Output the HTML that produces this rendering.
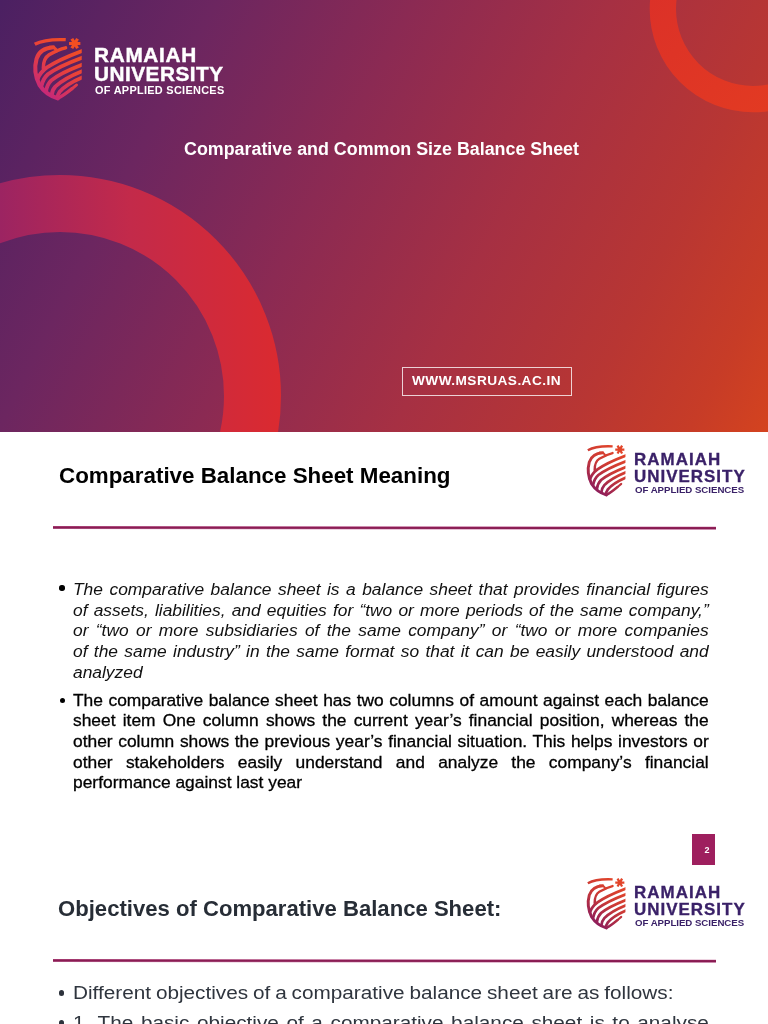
<!DOCTYPE html>
<html lang="en"><head><meta charset="utf-8"><title>Comparative and Common Size Balance Sheet</title>
<style>
html,body{margin:0;padding:0;background:#fff;}
body{width:768px;height:1024px;position:relative;overflow:hidden;font-family:"Liberation Sans",sans-serif;}
#s1{position:absolute;left:0;top:0;width:768px;height:432.4px;overflow:hidden;
background:linear-gradient(117deg,#4b2062 0%,#6c2660 22%,#8b2a53 42%,#a63043 62%,#b83633 80%,#c73c27 92%,#d4431f 100%);}
#bg{position:absolute;left:0;top:0;}
.t{position:absolute;white-space:nowrap;line-height:1;transform-origin:0 0;margin:0;padding:0;}
.j{text-align:justify;text-align-last:justify;white-space:nowrap;}
.bd{font-weight:700;}
.lg{font-weight:700;}
.it{font-style:italic;}
.rg{-webkit-text-stroke:0.3px #000;}
.rg3{}
.b{position:absolute;border-radius:50%;}
.sh{position:absolute;overflow:visible;}
.rule{position:absolute;left:52.7px;width:662.5px;height:2.8px;background:linear-gradient(180deg,#bd5a8e 0%,#8e1f57 28%,#861b50 66%,#c572a0 100%);transform-origin:0 50%;transform:rotate(0.06deg);}
#url{position:absolute;left:401.7px;top:366.7px;width:168px;height:27.2px;border:1.2px solid rgba(255,255,255,0.78);}
#pg{position:absolute;left:692px;top:834px;width:23.2px;height:30.5px;background:#9e1f5e;}
#pg span{position:absolute;left:12.5px;top:11.5px;font-size:9px;line-height:1;font-weight:700;color:#fff;}
</style></head>
<body>
<section id="s1">
<svg id="bg" width="768" height="432" viewBox="0 0 768 432">
<defs>
<linearGradient id="ring1" gradientUnits="userSpaceOnUse" x1="0" y1="300" x2="290" y2="300">
<stop offset="0" stop-color="#9c2462"/><stop offset="0.45" stop-color="#c32a4a"/><stop offset="1" stop-color="#dc2a2e"/></linearGradient>
<linearGradient id="ring2" gradientUnits="userSpaceOnUse" x1="650" y1="0" x2="768" y2="110">
<stop offset="0" stop-color="#dc3128"/><stop offset="1" stop-color="#e23a22"/></linearGradient>
</defs>
<circle cx="60" cy="396" r="192.5" fill="none" stroke="url(#ring1)" stroke-width="57"/>
<circle cx="753" cy="9" r="90.15" fill="none" stroke="url(#ring2)" stroke-width="26.3"/>
</svg>
<svg class="sh" style="left:30.40px;top:32.30px" width="57.41" height="72.48" viewBox="0 0 768 1002" preserveAspectRatio="none"><defs><linearGradient id="g1" gradientUnits="userSpaceOnUse" x1="620" y1="180" x2="130" y2="840"><stop offset="0" stop-color="#f24e22"/><stop offset="0.45" stop-color="#e8403c"/><stop offset="1" stop-color="#c5277c"/></linearGradient><clipPath id="g1c"><rect x="0" y="0" width="692" height="1002"/></clipPath></defs>
<g fill="none" stroke="url(#g1)" stroke-width="52" stroke-linecap="round" stroke-linejoin="round" clip-path="url(#g1c)">
<path d="M64 170 C150 122 300 98 478 106" stroke-linecap="butt" stroke-width="46"/>
<path d="M476 218 C400 236 332 268 256 314 C200 349 178 404 178 500" stroke-width="46"/>
<path d="M312 212 C205 220 118 270 88 370 C58 480 70 620 128 735 C188 830 290 892 372 918" stroke-width="55"/>
<path d="M372 918 C430 888 500 835 560 785" stroke-width="46"/>
<path d="M560 785 L622 733" stroke-width="40"/>
<path d="M262 210 C312 206 352 228 355 266" stroke-width="40"/>
<path d="M720 252 C510 332 330 415 225 492 C160 542 122 592 102 652"/>
<path d="M720 346 C510 426 340 507 240 584 C190 629 165 684 152 749"/>
<path d="M720 442 C520 520 370 594 285 669 C240 714 222 764 215 819"/>
<path d="M720 532 C540 604 410 684 340 754 C305 794 292 834 290 876"/>
<path d="M720 618 C560 686 450 759 395 829 C372 864 366 889 365 909"/>
</g>
<g stroke="#f24e22" stroke-width="42" stroke-linecap="butt"><path d="M522 160 H674 M560 94 L636 226 M560 226 L636 94"/></g>
</svg>
<div class="t lg" style="left:94.45px;top:46.19px;font-size:19.5px;transform:scaleX(1.065);color:#fff;letter-spacing:0.648px;-webkit-text-stroke:0.4px #fff;">RAMAIAH</div>
<div class="t lg" style="left:94.45px;top:64.99px;font-size:19.5px;transform:scaleX(1.065);color:#fff;letter-spacing:0.456px;-webkit-text-stroke:0.4px #fff;">UNIVERSITY</div>
<div class="t lg" style="left:95.14px;top:85.11px;font-size:10.5px;transform:scaleX(1.04);color:#fff;letter-spacing:0.279px;">OF APPLIED SCIENCES</div>
<h1 class="t bd" style="left:184.40px;top:140.89px;font-size:17.5px;transform:scaleX(1.0205);color:#fff;">Comparative and Common Size Balance Sheet</h1>
<div id="url"></div>
<div class="t bd" style="left:412.18px;top:374.67px;font-size:12.2px;transform:scaleX(1.12);color:#fff;letter-spacing:0.405px;">WWW.MSRUAS.AC.IN</div>
</section>
<section id="s2">
<h2 class="t bd" style="left:58.50px;top:464.95px;font-size:21.8px;transform:scaleX(1.026);color:#000;">Comparative Balance Sheet Meaning</h2>
<svg class="sh" style="left:584.00px;top:440.00px" width="46.00" height="60.00" viewBox="0 0 768 1002" preserveAspectRatio="none"><defs><linearGradient id="g2" gradientUnits="userSpaceOnUse" x1="620" y1="180" x2="130" y2="840"><stop offset="0" stop-color="#e2452a"/><stop offset="0.45" stop-color="#cc3a35"/><stop offset="1" stop-color="#8a1c5e"/></linearGradient><clipPath id="g2c"><rect x="0" y="0" width="692" height="1002"/></clipPath></defs>
<g fill="none" stroke="url(#g2)" stroke-width="46" stroke-linecap="round" stroke-linejoin="round" clip-path="url(#g2c)">
<path d="M64 170 C150 122 300 98 478 106" stroke-linecap="butt" stroke-width="40"/>
<path d="M476 218 C400 236 332 268 256 314 C200 349 178 404 178 500" stroke-width="40"/>
<path d="M312 212 C205 220 118 270 88 370 C58 480 70 620 128 735 C188 830 290 892 372 918" stroke-width="49"/>
<path d="M372 918 C430 888 500 835 560 785" stroke-width="40"/>
<path d="M560 785 L622 733" stroke-width="34"/>
<path d="M262 210 C312 206 352 228 355 266" stroke-width="34"/>
<path d="M720 252 C510 332 330 415 225 492 C160 542 122 592 102 652"/>
<path d="M720 346 C510 426 340 507 240 584 C190 629 165 684 152 749"/>
<path d="M720 442 C520 520 370 594 285 669 C240 714 222 764 215 819"/>
<path d="M720 532 C540 604 410 684 340 754 C305 794 292 834 290 876"/>
<path d="M720 618 C560 686 450 759 395 829 C372 864 366 889 365 909"/>
</g>
<g stroke="#e2452a" stroke-width="38" stroke-linecap="butt"><path d="M522 160 H674 M560 94 L636 226 M560 226 L636 94"/></g>
</svg>
<div class="t lg" style="left:634.11px;top:452.14px;font-size:15.9px;transform:scaleX(1.065);color:#3a2168;letter-spacing:1.000px;-webkit-text-stroke:0.3px #3a2168;">RAMAIAH</div>
<div class="t lg" style="left:634.11px;top:468.54px;font-size:15.9px;transform:scaleX(1.065);color:#3a2168;letter-spacing:0.954px;-webkit-text-stroke:0.3px #3a2168;">UNIVERSITY</div>
<div class="t lg" style="left:634.62px;top:485.93px;font-size:9.3px;transform:scaleX(1.04);color:#3a2168;letter-spacing:-0.034px;">OF APPLIED SCIENCES</div>
<div class="rule" style="top:525.95px"></div>
<div class="b" style="left:59.40px;top:585.40px;width:5.4px;height:5.4px;background:#000"></div>
<div class="t j it" style="left:73.30px;top:581.68px;font-size:16.8px;transform:scaleX(1.036);width:613.61px;color:#111;">The comparative balance sheet is a balance sheet that provides financial figures</div>
<div class="t j it" style="left:73.30px;top:602.68px;font-size:16.8px;transform:scaleX(1.036);width:613.61px;color:#111;">of assets, liabilities, and equities for “two or more periods of the same company,”</div>
<div class="t j it" style="left:73.30px;top:623.48px;font-size:16.8px;transform:scaleX(1.036);width:613.61px;color:#111;">or “two or more subsidiaries of the same company” or “two or more companies</div>
<div class="t j it" style="left:73.30px;top:643.78px;font-size:16.8px;transform:scaleX(1.036);width:613.61px;color:#111;">of the same industry” in the same format so that it can be easily understood and</div>
<div class="t it" style="left:73.30px;top:664.68px;font-size:16.8px;transform:scaleX(1.036);color:#111;">analyzed</div>
<div class="b" style="left:59.50px;top:697.60px;width:5.4px;height:5.4px;background:#000"></div>
<div class="t j rg" style="left:73.30px;top:692.68px;font-size:16.8px;transform:scaleX(1.036);width:613.61px;color:#000;">The comparative balance sheet has two columns of amount against each balance</div>
<div class="t j rg" style="left:73.30px;top:713.28px;font-size:16.8px;transform:scaleX(1.036);width:613.61px;color:#000;">sheet item One column shows the current year’s financial position, whereas the</div>
<div class="t j rg" style="left:73.30px;top:733.98px;font-size:16.8px;transform:scaleX(1.036);width:613.61px;color:#000;">other column shows the previous year’s financial situation. This helps investors or</div>
<div class="t j rg" style="left:73.30px;top:754.58px;font-size:16.8px;transform:scaleX(1.036);width:613.61px;color:#000;">other stakeholders easily understand and analyze the company’s financial</div>
<div class="t rg" style="left:73.30px;top:775.18px;font-size:16.8px;transform:scaleX(1.036);color:#000;">performance against last year</div>
<div id="pg"><span>2</span></div>
</section>
<section id="s3">
<h2 class="t bd" style="left:58.40px;top:898.05px;font-size:21.8px;transform:scaleX(1.014);color:#272d36;">Objectives of Comparative Balance Sheet:</h2>
<svg class="sh" style="left:584.00px;top:873.20px" width="46.00" height="60.00" viewBox="0 0 768 1002" preserveAspectRatio="none"><defs><linearGradient id="g3" gradientUnits="userSpaceOnUse" x1="620" y1="180" x2="130" y2="840"><stop offset="0" stop-color="#e2452a"/><stop offset="0.45" stop-color="#cc3a35"/><stop offset="1" stop-color="#8a1c5e"/></linearGradient><clipPath id="g3c"><rect x="0" y="0" width="692" height="1002"/></clipPath></defs>
<g fill="none" stroke="url(#g3)" stroke-width="46" stroke-linecap="round" stroke-linejoin="round" clip-path="url(#g3c)">
<path d="M64 170 C150 122 300 98 478 106" stroke-linecap="butt" stroke-width="40"/>
<path d="M476 218 C400 236 332 268 256 314 C200 349 178 404 178 500" stroke-width="40"/>
<path d="M312 212 C205 220 118 270 88 370 C58 480 70 620 128 735 C188 830 290 892 372 918" stroke-width="49"/>
<path d="M372 918 C430 888 500 835 560 785" stroke-width="40"/>
<path d="M560 785 L622 733" stroke-width="34"/>
<path d="M262 210 C312 206 352 228 355 266" stroke-width="34"/>
<path d="M720 252 C510 332 330 415 225 492 C160 542 122 592 102 652"/>
<path d="M720 346 C510 426 340 507 240 584 C190 629 165 684 152 749"/>
<path d="M720 442 C520 520 370 594 285 669 C240 714 222 764 215 819"/>
<path d="M720 532 C540 604 410 684 340 754 C305 794 292 834 290 876"/>
<path d="M720 618 C560 686 450 759 395 829 C372 864 366 889 365 909"/>
</g>
<g stroke="#e2452a" stroke-width="38" stroke-linecap="butt"><path d="M522 160 H674 M560 94 L636 226 M560 226 L636 94"/></g>
</svg>
<div class="t lg" style="left:634.11px;top:885.44px;font-size:15.9px;transform:scaleX(1.065);color:#3a2168;letter-spacing:1.000px;-webkit-text-stroke:0.3px #3a2168;">RAMAIAH</div>
<div class="t lg" style="left:634.11px;top:901.84px;font-size:15.9px;transform:scaleX(1.065);color:#3a2168;letter-spacing:0.954px;-webkit-text-stroke:0.3px #3a2168;">UNIVERSITY</div>
<div class="t lg" style="left:634.62px;top:919.23px;font-size:9.3px;transform:scaleX(1.04);color:#3a2168;letter-spacing:-0.034px;">OF APPLIED SCIENCES</div>
<div class="rule" style="top:958.95px"></div>
<div class="b" style="left:58.80px;top:990.10px;width:5.6px;height:5.6px;background:#2c323b"></div>
<div class="t rg3" style="left:73.20px;top:983.67px;font-size:18.7px;transform:scaleX(1.11);color:#2f353e;word-spacing:-0.8px;">Different objectives of a comparative balance sheet are as follows:</div>
<div class="b" style="left:58.80px;top:1020.10px;width:5.6px;height:5.6px;background:#2c323b"></div>
<div class="t j rg3" style="left:73.20px;top:1013.67px;font-size:18.7px;transform:scaleX(1.11);width:572.79px;color:#2f353e;">1. The basic objective of a comparative balance sheet is to analyse</div>
</section>
</body></html>
